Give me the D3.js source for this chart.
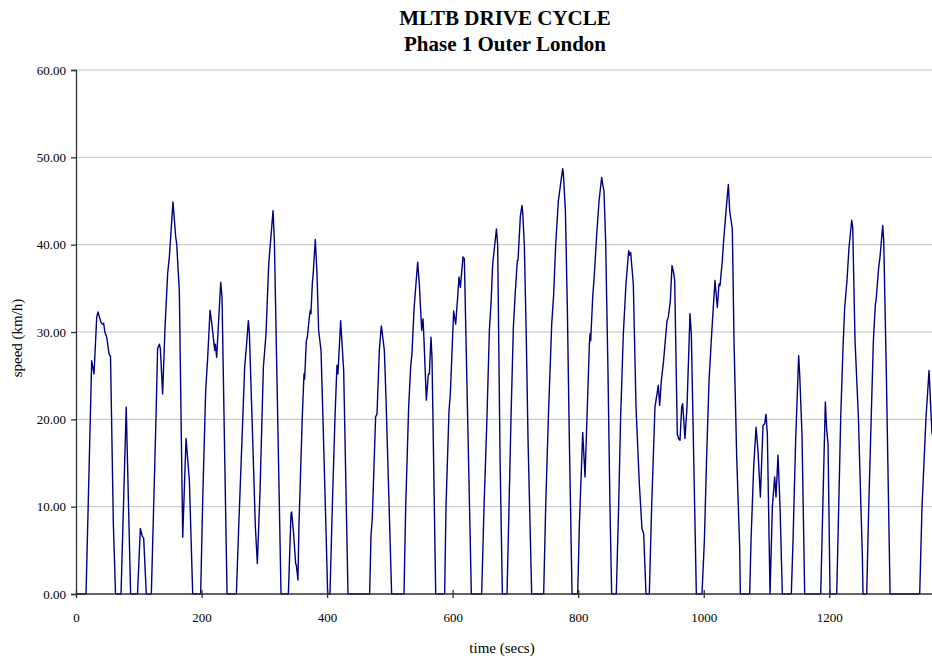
<!DOCTYPE html>
<html>
<head>
<meta charset="utf-8">
<script src="https://cdn.jsdelivr.net/npm/d3@7"></script>
<style>
	body { margin: 0; background: #fff; }
	svg { display: block; font-family: 'Liberation Serif', 'Times New Roman', serif; }
	.grid line { stroke: #c0c0c0; stroke-width: 1; }
	.axis path, .axis line { stroke: #303030; stroke-width: 1.3; }
	.axis text { font-family: 'Liberation Serif', 'Times New Roman', serif; font-size: 13px; fill: #000; }
</style>
</head>
<body>
<script>
// drive cycle trace (seconds, km/h)
var timeSecs = [
	0, 16, 25, 28.7, 33, 35, 39.8, 42, 44, 46, 49, 52.6, 55, 59.5, 63, 71.7, 80, 87, 98, 102.5, 105.7, 107.8, 112,
	120, 127.5, 130, 132.8, 134.4, 138, 141.8, 146, 148.7, 154.5, 158.8, 160.4, 164.6, 170, 175.3, 177.4, 180.6, 185.9,
	198.6, 201.8, 206.6, 209.8, 213.5, 216.1, 221, 222, 224.1, 230.5, 232.6, 240.6,
	255.5, 259.2, 263.4, 268.7, 271.4, 274.6, 276.2, 281.5, 285.7, 288.9, 293.2, 298.5, 302.7, 307, 313.9, 316, 326.6,
	338.3, 342.5, 343.5, 346.7, 349.9, 351, 353.6, 355.2, 360.5, 363.2, 364.2, 366.9, 368.5, 371.7, 373.3, 374.3, 376.4,
	377.5, 381.2, 383.9, 386.5, 390.3, 392.9, 398.7, 400.9,
	404.6, 408.3, 412.6, 415.7, 417.3, 421.6, 423.2, 426.4, 433.3,
	467.8, 469.9, 472, 477.3, 479.5, 483.2, 486.4, 488, 491.2, 493.8, 502.8,
	522.5, 525.2, 529.9, 533.1, 535.2, 538.4, 541.1, 544.3, 546.9, 550.7, 552.8, 554.4, 558.1, 561.3, 562.9, 565.5,
	567.1, 573,
	587.3, 589.4, 594.2, 596.3, 601.6, 604.8, 608, 610.1, 612.3, 616.5, 618.6, 629.8,
	646.2, 650, 654.7, 658.5, 661.1, 663.8, 669.8, 671.7, 675.5, 679.2,
	686.6, 689.8, 693, 696.7, 699.9, 703.1, 704.1, 707.9, 710.5, 711.6, 714.2, 717.4, 720.1, 725.9,
	745, 748.2, 752.5, 757.8, 761, 764.2, 768.4, 772.6, 775.3, 776.4, 779.6, 782.7, 785.9, 790.2,
	799.2, 801.9, 807.2, 810.9, 813.5, 817.8, 818.9, 819.9, 823.1, 825.8, 829.5, 833.2, 837.4, 839, 841, 843.7, 847.5,
	850.6, 853.3,
	860.7, 864.4, 867.6, 871.9, 876.1, 880.4, 882, 883.6, 887.8, 892.1, 897.4, 901.6, 904.3, 908,
	913.3, 917, 922.3, 927.6, 929.8, 932.4, 935.6, 941.5, 943.6, 946.8, 949.4, 951.5, 953.7, 957.9, 960, 962.2, 964.8,
	966.4, 970.1, 973.3, 978.1, 980.2, 988.2,
	997.2, 1001, 1004.6, 1008.4, 1012.6, 1017.9, 1021.6, 1024.3, 1025.9, 1029.6, 1031.7, 1036, 1039.2, 1041.3, 1045.5,
	1048.2, 1052.5, 1057.2, 1058.3,
	1073.2, 1075.3, 1079.5, 1083.3, 1086.4, 1090.2, 1094.4, 1097.1, 1099.2, 1101.3, 1105.6, 1109.3, 1113, 1115.1,
	1118.3, 1121.5, 1125.2,
	1139.5, 1142.2, 1146.4, 1151.2, 1152.8, 1156.5, 1160.8,
	1186.3, 1193.7, 1195.9, 1198, 1201.2,
	1211.8, 1215, 1218.2, 1221.9, 1224.5, 1227.2, 1228.2, 1231.4, 1235.7, 1237.3, 1241, 1246.3, 1252.7, 1253.7,
	1259.6, 1262.8, 1266.5, 1270.2, 1273.4, 1274.5, 1278.7, 1280.8, 1285.1, 1286.7, 1290.9, 1296.8,
	1344, 1347.7, 1354.1, 1358.9, 1361.6, 1363.6
];
var speedKmh = [
	0, 0, 26.7, 25.2, 31.7, 32.3, 31.1, 30.9, 31.0, 30, 29.4, 27.5, 27.2, 8, 0, 0, 21.4, 0, 0, 7.5, 6.6, 6.4, 0,
	0, 20.3, 28.1, 28.6, 28.1, 22.9, 30.5, 36.7, 38.6, 44.9, 40.9, 40.1, 34.7, 6.5, 17.8, 15.9, 13, 0,
	0, 10.7, 23.3, 27.1, 32.5, 31.1, 27.9, 28.6, 27.1, 35.7, 34, 0,
	0, 7.7, 15.7, 26, 28.3, 31.3, 29.8, 17.6, 7.7, 3.5, 11.9, 26, 29.8, 37.8, 43.9, 40.5, 0,
	0, 9.2, 9.4, 6.9, 3.5, 3.3, 1.6, 8, 20.3, 25.2, 24.6, 29, 29.4, 31.7, 32.5, 32.1, 35.5,
	36.3, 40.6, 36.7, 30.2, 27.9, 21.4, 6.1, 0,
	0, 10, 20.3, 26.2, 25.2, 31.3, 29.4, 25.6, 0,
	0, 6.7, 8.7, 20.3, 20.6, 27.9, 30.7, 29.8, 27.9, 22.5, 0,
	0, 10, 21.4, 26, 27.5, 32.5, 35.1, 38, 35.5, 30.2, 31.5, 29, 22.2, 25.2, 25.2, 29.4,
	27.1, 0,
	0, 10, 21, 22.9, 32.4, 30.9, 34, 36.3, 35.1, 38.6, 38.4, 0,
	0, 10, 20.3, 30.2, 33.2, 37.8, 41.8, 40, 15.7, 0,
	0, 10, 20.3, 30.5, 34.7, 38.2, 38.2, 43.3, 44.5, 43.7, 40, 29, 17.6, 0,
	0, 10, 20.3, 30.9, 34.4, 40.1, 45, 47.3, 48.7, 48.1, 43.9, 32.8, 17.6, 0,
	0, 8, 18.5, 13.4, 19.1, 28.6, 29.8, 29, 34, 36.7, 41.2, 45, 47.7, 46.9, 46.2, 40.5, 25.2,
	10, 0,
	0, 10, 20.3, 29.8, 35.5, 39.3, 38.8, 39.1, 35.5, 21.4, 12.6, 7.5, 6.9, 0,
	0, 10, 21.4, 23.9, 21.6, 24.4, 26.4, 31.3, 31.7, 33.6, 37.6, 37, 35.9, 18.3, 17.8, 17.6, 21.4,
	21.8, 17.8, 21.4, 32.1, 29.8, 0,
	0, 6.1, 15.7, 24.4, 29.8, 35.9, 32.8, 35.5, 35.3, 38.2, 40.5, 44.3, 46.9, 43.9, 41.8,
	29, 15.7, 5.4, 0,
	0, 6.1, 14.5, 19.1, 16.4, 11.1, 19.3, 19.5, 20.6, 18.3, 0, 10, 13.4, 11.1,
	15.9, 10, 0,
	0, 6.1, 17.6, 27.3, 25.2, 18.3, 0,
	0, 22, 18.7, 17.2, 0,
	0, 10, 20.3, 28.3, 32.8, 35.1, 35.9, 39.7, 42.8, 42, 29, 20.3, 4.2, 0,
	0, 10, 19.5, 29, 33.2, 33.6, 37.4, 38.6, 42.2, 40.5, 25.2, 0,
	0, 10, 20.3, 25.6, 21.4, 18.3
];
var xTicks = [0, 200, 400, 600, 800, 1000, 1200];
var yTicks = [0, 10, 20, 30, 40, 50, 60];
var titleLines = ['MLTB DRIVE CYCLE', 'Phase 1 Outer London'];

var width = 932, height = 658;
var margin = { top: 70, right: 0, bottom: 64, left: 76 };

var svg = d3.select('body').append('svg')
	.attr('width', width)
	.attr('height', height);

var x = d3.scaleLinear().domain([0, 1363.6]).range([margin.left, width - margin.right]);
var y = d3.scaleLinear().domain([0, 60]).range([height - margin.bottom, margin.top]);

// horizontal gridlines
svg.append('g').attr('class', 'grid')
	.selectAll('line').data(yTicks.filter(function (d) { return d > 0; })).enter().append('line')
	.attr('x1', margin.left).attr('x2', width)
	.attr('y1', function (d) { return y(d); }).attr('y2', function (d) { return y(d); });

// speed trace
var points = timeSecs.map(function (t, i) { return [t, speedKmh[i]]; });
svg.append('path')
	.datum(points)
	.attr('fill', 'none')
	.attr('stroke', '#000080')
	.attr('stroke-width', 1.4)
	.attr('stroke-linejoin', 'round')
	.attr('d', d3.line().x(function (d) { return x(d[0]); }).y(function (d) { return y(d[1]); }));

// axes
var xAxis = svg.append('g').attr('class', 'axis')
	.attr('transform', 'translate(0,' + y(0) + ')')
	.call(d3.axisBottom(x).tickValues(xTicks).tickFormat(d3.format('d')).tickSizeOuter(0).tickSize(4).tickPadding(15));
xAxis.selectAll('.tick line').attr('y1', -4).attr('y2', 4);
xAxis.select('.domain').attr('d', 'M' + margin.left + ',0H' + width);

svg.append('g').attr('class', 'axis')
	.attr('transform', 'translate(' + margin.left + ',0)')
	.call(d3.axisLeft(y).tickValues(yTicks).tickFormat(d3.format('.2f')).tickSizeOuter(0).tickSize(5).tickPadding(5));

// titles
svg.append('g').selectAll('text').data(titleLines).enter().append('text')
	.attr('x', 505)
	.attr('y', function (d, i) { return 25 + i * 26; })
	.attr('text-anchor', 'middle')
	.style('font-size', '21px')
	.style('font-weight', 'bold')
	.text(function (d) { return d; });

svg.append('text')
	.attr('x', 502).attr('y', 653)
	.attr('text-anchor', 'middle')
	.style('font-size', '15px')
	.text('time (secs)');

svg.append('text')
	.attr('transform', 'translate(22,338) rotate(-90)')
	.attr('text-anchor', 'middle')
	.style('font-size', '15px')
	.text('speed (km/h)');
</script>
</body>
</html>
